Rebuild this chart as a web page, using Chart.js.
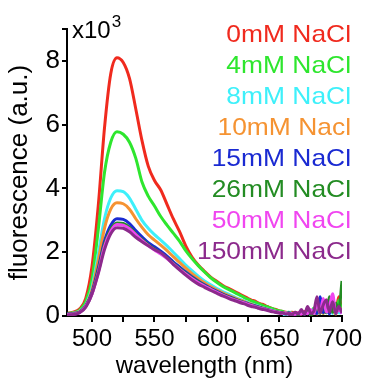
<!DOCTYPE html>
<html>
<head>
<meta charset="utf-8">
<script src="https://cdn.jsdelivr.net/npm/chart.js@4/dist/chart.umd.min.js"></script>
<style>
  html, body { margin: 0; padding: 0; background: #fff; }
  #wrap { width: 365px; height: 381px; position: relative; }
</style>
</head>
<body>
<div id="wrap"><canvas id="chartSpectra"></canvas></div>
<script>
Chart.defaults.font.family = "'Liberation Sans', Arial, sans-serif";
Chart.defaults.color = '#000';

// wavelength (nm)
const wavelengths = [
    480, 485, 490, 495, 500, 505, 510, 515, 520, 525, 530, 535, 540, 545, 550,
    555, 560, 565, 570, 575, 580, 585, 590, 595, 600, 605, 610, 615, 620,
    622.5, 625, 627.5, 630, 632.5, 635, 637.5, 640, 642.5, 645, 647.5, 650,
    652.5, 655, 657.5, 660, 662.5, 665, 667.5, 670, 672.5, 675, 677.5, 680,
    682.5, 685, 687.5, 690, 692.5, 695, 697.5, 700
];

// fluorescence, x10^3 a.u.
const nacl0 = [
    0.08, 0.12, 0.22, 0.55, 1.55, 3.45, 5.9, 7.6, 8.1, 7.95, 7.45, 6.5, 5.5, 4.7, 4.25,
    3.95, 3.5, 3.05, 2.65, 2.2, 1.85, 1.6, 1.4, 1.22, 1.08, 0.95, 0.85, 0.75, 0.65,
    0.6, 0.55, 0.5, 0.47, 0.42, 0.38, 0.35, 0.3, 0.26, 0.22, 0.2, 0.16,
    0.14, 0.12, 0.1, 0.12, 0.08, 0.1, 0.06, 0.14, 0.08, 0.1, 0.2, 0.06,
    0.3, 0.1, 0.5, 0.12, 0.4, 0.15, 0.6, 0.1
];
const nacl4 = [
    0.08, 0.1, 0.18, 0.45, 1.15, 2.7, 4.5, 5.45, 5.78, 5.7, 5.45, 4.95, 4.2, 3.76, 3.45,
    3.12, 2.85, 2.6, 2.35, 2.05, 1.8, 1.58, 1.38, 1.2, 1.05, 0.92, 0.82, 0.72, 0.62,
    0.56, 0.52, 0.47, 0.44, 0.4, 0.36, 0.32, 0.29, 0.25, 0.22, 0.18, 0.16,
    0.14, 0.1, 0.12, 0.08, 0.1, 0.06, 0.12, 0.08, 0.15, 0.05, 0.25, 0.1,
    0.35, 0.08, 0.45, 0.15, 0.3, 0.1, 0.5, 0.12
];
const nacl8 = [
    0.07, 0.09, 0.15, 0.35, 0.9, 1.95, 3.05, 3.7, 3.93, 3.9, 3.7, 3.35, 3.0, 2.75, 2.55,
    2.38, 2.2, 2.0, 1.8, 1.6, 1.42, 1.25, 1.1, 0.98, 0.86, 0.76, 0.67, 0.58, 0.5,
    0.46, 0.42, 0.38, 0.35, 0.32, 0.28, 0.25, 0.22, 0.2, 0.17, 0.14, 0.12,
    0.1, 0.0, 0.12, 0.08, 0.1, 0.05, 0.12, 0.07, 0.1, 0.06, 0.2, 0.08,
    0.15, 0.3, 0.1, 0.2, 0.08, 0.35, 0.1, 0.12
];
const nacl10 = [
    0.07, 0.09, 0.14, 0.33, 0.82, 1.75, 2.75, 3.35, 3.55, 3.52, 3.35, 3.05, 2.78, 2.55, 2.38,
    2.22, 2.05, 1.86, 1.68, 1.5, 1.33, 1.18, 1.04, 0.92, 0.81, 0.72, 0.63, 0.55, 0.48,
    0.44, 0.4, 0.37, 0.33, 0.3, 0.27, 0.24, 0.21, 0.19, 0.16, 0.14, 0.12,
    0.1, 0.08, 0.1, 0.06, 0.12, 0.05, 0.1, 0.08, 0.12, 0.05, 0.15, 0.1,
    0.2, 0.08, 0.25, 0.1, 0.18, 0.06, 0.3, 0.1
];
const nacl15 = [
    0.07, 0.08, 0.12, 0.32, 0.74, 1.5, 2.35, 2.85, 3.05, 3.03, 2.9, 2.68, 2.48, 2.3, 2.17,
    2.03, 1.88, 1.7, 1.54, 1.38, 1.23, 1.1, 0.98, 0.87, 0.77, 0.68, 0.6, 0.52, 0.45,
    0.42, 0.38, 0.35, 0.32, 0.29, 0.26, 0.23, 0.2, 0.18, 0.15, 0.13, 0.11,
    0.09, 0.07, 0.1, 0.05, 0.08, 0.04, 0.1, 0.06, 0.12, 0.05, 0.18, 0.08,
    0.6, 0.1, 0.35, 0.06, 0.5, 0.08, 0.25, 0.1
];
const nacl26 = [
    0.06, 0.07, 0.11, 0.3, 0.7, 1.42, 2.25, 2.72, 2.92, 2.9, 2.78, 2.58, 2.4, 2.24, 2.1,
    1.97, 1.82, 1.65, 1.49, 1.34, 1.2, 1.07, 0.95, 0.85, 0.75, 0.66, 0.58, 0.51, 0.44,
    0.4, 0.37, 0.34, 0.31, 0.28, 0.25, 0.22, 0.2, 0.17, 0.15, 0.13, 0.11,
    0.09, 0.07, 0.09, 0.05, 0.1, 0.04, 0.12, 0.06, 0.15, 0.05, 0.1, 0.3,
    0.08, 0.45, 0.1, 0.6, 0.12, 0.4, 0.2, 1.1
];
const nacl50 = [
    0.05, 0.06, 0.1, 0.3, 0.68, 1.36, 2.18, 2.66, 2.87, 2.85, 2.74, 2.55, 2.37, 2.21, 2.07,
    1.94, 1.8, 1.63, 1.47, 1.32, 1.18, 1.05, 0.94, 0.84, 0.74, 0.65, 0.57, 0.5, 0.43,
    0.4, 0.36, 0.33, 0.3, 0.27, 0.24, 0.22, 0.19, 0.17, 0.15, 0.12, 0.1,
    0.08, 0.1, 0.06, 0.08, 0.05, 0.1, 0.06, 0.12, 0.07, 0.2, 0.08, 0.4,
    0.1, 0.55, 0.12, 0.3, 0.7, 0.1, 0.2, 0.08
];
const nacl150 = [
    0.03, 0.05, 0.1, 0.28, 0.7, 1.33, 2.08, 2.58, 2.77, 2.75, 2.64, 2.47, 2.33, 2.2, 2.08,
    1.98, 1.82, 1.62, 1.45, 1.28, 1.13, 1.0, 0.9, 0.8, 0.71, 0.62, 0.54, 0.47, 0.4,
    0.37, 0.33, 0.3, 0.28, 0.25, 0.22, 0.2, 0.18, 0.15, 0.13, 0.11, 0.09,
    0.1, 0.06, 0.08, 0.05, 0.12, 0.06, 0.2, 0.05, 0.3, 0.08, 0.15, 0.6,
    0.1, 0.35, 0.5, 0.12, 0.45, 0.1, 0.3, 0.1
];

const seriesLabels = [
    '0mM NaCl', '4mM NaCl', '8mM NaCl', '10mM Nacl',
    '15mM NaCl', '26mM NaCl', '50mM NaCl', '150mM NaCl'
];
const seriesValues = [nacl0, nacl4, nacl8, nacl10, nacl15, nacl26, nacl50, nacl150];
const seriesColors = [
    '#f02a1e', '#2ee62e', '#3ef0fa', '#f59332',
    '#1a2ad2', '#238c23', '#f046f0', '#8c2a8c'
];

const xTicks = [500, 525, 550, 575, 600, 625, 650, 675, 700];
const yTicks = [0, 2, 4, 6, 8, 9];

const datasets = seriesValues.map((vals, i) => ({
    label: seriesLabels[i],
    data: wavelengths.map((w, j) => ({ x: w, y: vals[j] })),
    borderColor: seriesColors[i],
    backgroundColor: seriesColors[i],
    borderWidth: 3,
    pointRadius: 0,
    fill: false,
    cubicInterpolationMode: 'monotone',
    order: seriesValues.length - 1 - i // last series on top
}));

// legend text, right aligned, in the series colours
const textLegend = {
    id: 'textLegend',
    afterDraw(chart) {
        const ctx = chart.ctx;
        ctx.save();
        ctx.font = "24px 'Liberation Sans', Arial, sans-serif";
        ctx.textAlign = 'right';
        ctx.textBaseline = 'middle';
        chart.data.datasets.forEach((ds, i) => {
            ctx.save();
            ctx.translate(351, 35 + i * 31);
            ctx.scale(1.1, 1);
            ctx.fillStyle = ds.borderColor;
            ctx.fillText(ds.label, 0, 0);
            ctx.restore();
        });
        // x10^3 multiplier at top of the y axis
        const left = chart.chartArea.left;
        ctx.fillStyle = '#000';
        ctx.textAlign = 'left';
        ctx.textBaseline = 'alphabetic';
        ctx.font = "24px 'Liberation Sans', Arial, sans-serif";
        ctx.fillText('x10', left + 5, 38);
        const w = ctx.measureText('x10').width;
        ctx.font = "17px 'Liberation Sans', Arial, sans-serif";
        ctx.fillText('3', left + 6 + w, 27);
        ctx.restore();
    }
};

const ctx = document.getElementById('chartSpectra').getContext('2d');
new Chart(ctx, {
    type: 'line',
    data: { datasets: datasets },
    plugins: [textLegend],
    options: {
        responsive: true,
        maintainAspectRatio: false,
        animation: false,
        layout: { padding: { top: 29, right: 23, left: 0, bottom: 0 } },
        plugins: {
            legend: { display: false },
            tooltip: { enabled: false }
        },
        scales: {
            x: {
                type: 'linear',
                min: 480,
                max: 700,
                afterBuildTicks: (s) => { s.ticks = xTicks.map(v => ({ value: v })); },
                afterFit: (s) => { s.height = 65; },
                ticks: {
                    autoSkip: false,
                    maxRotation: 0,
                    padding: 3,
                    font: { size: 24 },
                    callback: (v) => (v % 50 === 0 ? String(v) : '')
                },
                grid: {
                    drawOnChartArea: false,
                    drawTicks: true,
                    tickLength: 6,
                    color: '#000',
                    lineWidth: 2
                },
                border: { display: true, color: '#000', width: 2 },
                title: {
                    display: true,
                    text: 'wavelength (nm)',
                    font: { size: 24 },
                    padding: { top: 0, bottom: 0 }
                }
            },
            y: {
                min: 0,
                max: 9,
                afterBuildTicks: (s) => { s.ticks = yTicks.map(v => ({ value: v })); },
                afterFit: (s) => { s.width = 67; },
                ticks: {
                    autoSkip: false,
                    padding: 2,
                    font: { size: 26 },
                    callback: (v) => (v === 9 ? '' : String(v))
                },
                grid: {
                    drawOnChartArea: false,
                    drawTicks: true,
                    tickLength: 5,
                    color: '#000',
                    lineWidth: 2
                },
                border: { display: true, color: '#000', width: 2 },
                title: {
                    display: true,
                    text: 'fluorescence (a.u.)',
                    font: { size: 26 },
                    padding: { top: 4, bottom: 0 }
                }
            }
        }
    }
});
</script>
</body>
</html>
